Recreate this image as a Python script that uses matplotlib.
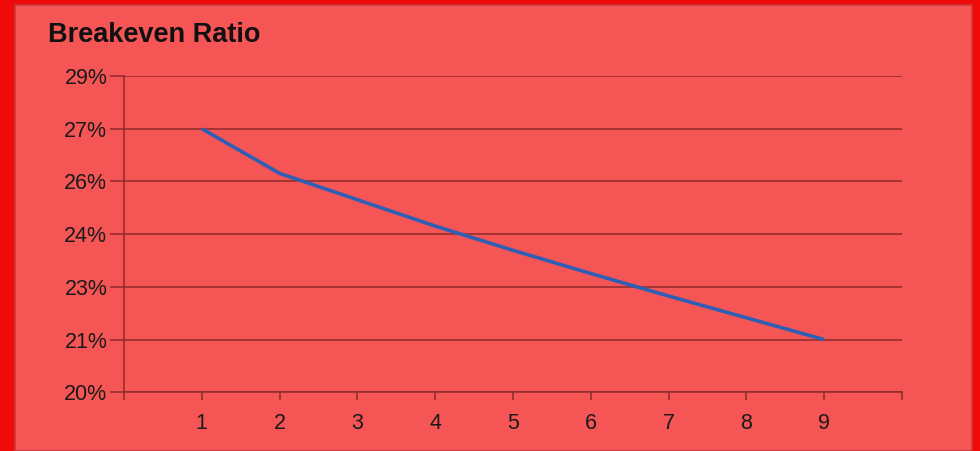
import matplotlib.pyplot as plt
from matplotlib.patches import Rectangle

# data
periods = [1, 2, 3, 4, 5, 6, 7, 8, 9]
breakeven = [27.5, 26.23, 25.48, 24.73, 24.04, 23.38, 22.74, 22.12, 21.5]
y_ticks = [20, 21.5, 23, 24.5, 26, 27.5, 29]
y_labels = ["20%", "21%", "23%", "24%", "26%", "27%", "29%"]
x_ticks = list(range(0, 11))
x_labels = [""] + [str(p) for p in periods] + [""]

plt.rcParams['font.family'] = ['Liberation Sans', 'DejaVu Sans']

fig = plt.figure(figsize=(9.8, 4.51), dpi=100)
fig.patch.set_facecolor('#f00a0a')
# inner panel with a thin darker outline
panel = Rectangle((15 / 980, 0), 957 / 980, 446 / 451, transform=fig.transFigure,
                  facecolor='#f55555', edgecolor='#c83a3a', linewidth=1.2, zorder=-10)
fig.add_artist(panel)

ax = fig.add_axes([124 / 980, (451 - 392.3) / 451, 778 / 980, 316.3 / 451])
ax.set_zorder(1)
ax.set_facecolor('#f55555')
ax.plot(periods, breakeven, color='#2f5fb5', linewidth=2.6, zorder=3, solid_capstyle='butt')

ax.set_xlim(0, 10)
ax.set_ylim(20, 29)
ax.set_yticks(y_ticks)
ax.set_yticklabels(y_labels)
ax.set_xticks(x_ticks)
ax.set_xticklabels(x_labels)

grid_col = '#8e2b2b'
ax.yaxis.grid(True, color=grid_col, linewidth=1.1)
ax.set_axisbelow(True)
for s in ['top', 'right']:
    ax.spines[s].set_visible(False)
for s in ['left', 'bottom']:
    ax.spines[s].set_color(grid_col)
    ax.spines[s].set_linewidth(1.1)

ax.tick_params(axis='y', length=10, width=1.1, color=grid_col, labelsize=15.5,
               labelcolor='#1a1a1a', pad=2)
ax.tick_params(axis='x', length=6, width=1.1, color=grid_col, labelsize=15.5,
               labelcolor='#1a1a1a', pad=9)

fig.text(48 / 980, 1 - 35 / 451, "Breakeven Ratio", fontsize=19.5, fontweight='bold',
         color='#111111', va='center', ha='left')

fig.savefig('out.png', dpi=100, facecolor=fig.get_facecolor())
